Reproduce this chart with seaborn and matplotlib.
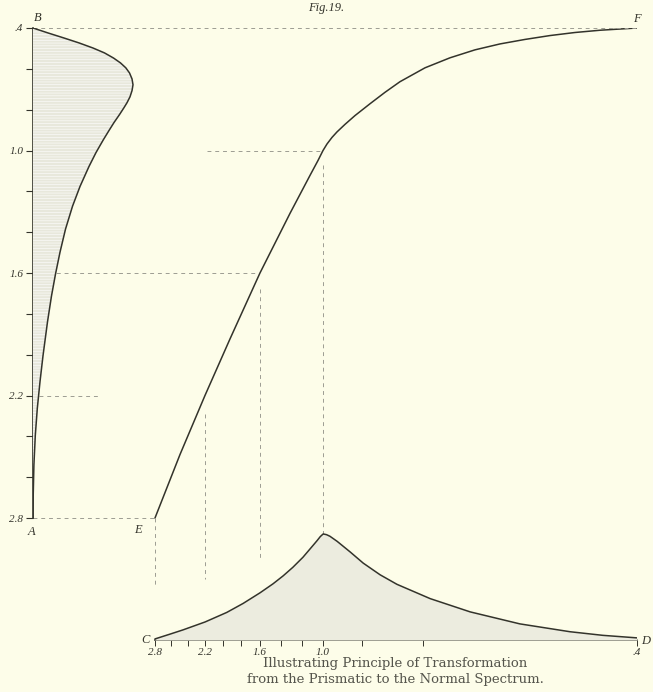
import numpy as np
import matplotlib
matplotlib.use("Agg")
import matplotlib.pyplot as plt
import seaborn as sns

# normal spectrum (left): energy against wave-length
normal_wavelength = [0.400, 0.425, 0.449, 0.473, 0.498, 0.522, 0.547, 0.571, 0.595, 0.620,
                     0.649, 0.678, 0.707, 0.737, 0.766, 0.790, 0.824, 0.863, 0.902, 0.946,
                     0.980, 1.010, 1.078, 1.127, 1.176, 1.273, 1.385, 1.498, 1.605, 1.712,
                     1.839, 2.005, 2.132, 2.263, 2.395, 2.541, 2.680, 2.800]
normal_energy = [0, 15.5, 31, 46, 60, 71.5, 80.5, 87.5, 92.8, 96.5,
                 99, 100, 99, 97, 94, 91, 86.5, 81, 76, 70.5,
                 66.5, 63, 56, 51.5, 47, 39.5, 32.5, 27, 22.5, 18.5,
                 14.5, 10, 7, 4.3, 2.3, 0.9, 0.25, 0]

# transformation curve E-F: place on the prismatic scale against wave-length
prism_pos = [0, 5.19, 10.37, 15.56, 21.78, 28.01, 32.16, 33.82, 34.86, 35.69,
             36.72, 37.76, 39.42, 41.49, 44.61, 47.72, 50.83, 56.02, 61.20, 66.39,
             71.58, 76.76, 81.95, 87.14, 92.32, 96.47, 100]
prism_wavelength = [2.800, 2.489, 2.200, 1.923, 1.600, 1.308, 1.122, 1.049, 1.000, 0.968,
                    0.936, 0.909, 0.872, 0.829, 0.771, 0.715, 0.663, 0.595, 0.546, 0.507,
                    0.478, 0.456, 0.437, 0.422, 0.411, 0.405, 0.400]

# prismatic spectrum (bottom): energy against place on the prismatic scale
bottom_pos = [0, 3.1, 5.8, 10.4, 14.9, 18.3, 21.8, 24.5, 26.6, 28.6,
              30.7, 32.2, 33.6, 34.3, 34.9, 35.6, 36.3, 37.8, 40.5, 43.2,
              46.7, 50.2, 57.1, 65.4, 75.7, 86.1, 92.9, 100]
bottom_energy = [1, 5.5, 9.5, 17, 26, 34.5, 44.5, 53, 60.5, 68.5,
                 78, 86, 93.5, 97.5, 100, 99.3, 97.8, 93, 83, 72.5,
                 61.5, 52.5, 39, 26.5, 15.2, 7.8, 4.4, 2]

label_wl = [2.8, 2.2, 1.6, 1.0, 0.4]
label_txt = ["2.8", "2.2", "1.6", "1.0", ".4"]
minor_wl = [2.6, 2.4, 2.0, 1.8, 1.4, 1.2, 0.8, 0.6]

sns.set_theme(style="white")
plt.rcParams["font.family"] = ["Liberation Serif", "DejaVu Serif"]
plt.rcParams["hatch.linewidth"] = 0.4
plt.rcParams["hatch.color"] = "#c8c8bb"

paper = "#fdfde9"
ink = "#33332b"
dash_col = "#9c9c92"

fig = plt.figure(figsize=(6.53, 6.92), dpi=100, facecolor=paper)
ax = fig.add_axes([33 / 653, 52 / 692, 604 / 653, 612 / 692])
ax.set_facecolor("none")
ax.set_xlim(-25.3, 100)
ax.set_ylim(3.397, 0.4)

# wave-length -> prismatic place
pos_of = lambda wl: np.interp(wl, prism_wavelength[::-1], prism_pos[::-1])

# transformation curve
sns.lineplot(x=prism_pos, y=prism_wavelength, ax=ax, color=ink, lw=1.1,
             sort=False, estimator=None)

# construction lines
dkw = dict(color=dash_col, lw=0.7, dashes=(4, 4))
ax.plot([-25.3, 100], [0.4, 0.4], **dkw)
ax.plot([100, 100], [0.4, 3.397], **dkw)
ax.plot([-25.3, 0], [2.8, 2.8], **dkw)
ax.plot([0, 0], [2.8, 3.13], **dkw)
ax.plot([-24, -11.4], [2.2, 2.2], **dkw)
ax.plot([pos_of(2.2)] * 2, [2.29, 3.1], **dkw)
ax.plot([-25.3, pos_of(1.6) - 0.5], [1.6, 1.6], **dkw)
ax.plot([pos_of(1.6)] * 2, [1.68, 3.0], **dkw)
ax.plot([pos_of(1.0) - 24, pos_of(1.0) - 0.5], [1.0, 1.0], **dkw)
ax.plot([pos_of(1.0)] * 2, [1.07, 3.397], **dkw)

# axes lines
for s in ["top", "right"]:
    ax.spines[s].set_visible(False)
ax.spines["left"].set_bounds(2.8, 0.4)
ax.spines["bottom"].set_bounds(0, 100)
for s in ["left", "bottom"]:
    ax.spines[s].set_color(ink)
    ax.spines[s].set_linewidth(1.2)

lab_font = dict(family="Liberation Serif", style="italic", size=8, color=ink)
ax.set_yticks(label_wl, labels=label_txt, **lab_font)
ax.set_yticks([0.6, 0.8, 1.2, 1.4, 1.8, 2.0, 2.4, 2.6], minor=True)
ax.set_xticks([pos_of(w) for w in label_wl], labels=label_txt, **lab_font)
ax.set_xticks([pos_of(w) for w in minor_wl], minor=True)
ax.tick_params(axis="y", which="both", direction="out", length=5, width=0.8,
               color=ink, pad=2, left=True)
ax.tick_params(axis="x", which="both", direction="out", length=4, width=0.7,
               color=ink, pad=1.5, bottom=True)

# normal spectrum on the left
ax_l = ax.twiny()
ax_l.set_xlim(0, 604)
ax_l.fill_betweenx(normal_wavelength, 0, normal_energy, facecolor="#e8e8dc",
                   hatch="------", edgecolor="none", lw=0)
sns.lineplot(x=normal_energy, y=normal_wavelength, ax=ax_l, color=ink, lw=1.1,
             orient="y", estimator=None)
ax_l.set_axis_off()

# prismatic spectrum at the bottom
ax_b = ax.twinx()
ax_b.set_ylim(0, 577)
ax_b.fill_between(bottom_pos, 0, bottom_energy, color="#ececdf", lw=0)
sns.lineplot(x=bottom_pos, y=bottom_energy, ax=ax_b, color=ink, lw=1.1,
             estimator=None)
ax_b.set_axis_off()

# letters
let = dict(family="Liberation Serif", style="italic", size=9, color=ink)
ax.annotate("B", (-25.3, 0.4), xytext=(1, 5), textcoords="offset points", **let)
ax.annotate("F", (100, 0.4), xytext=(0, 4), textcoords="offset points", ha="center", **let)
ax.annotate("A", (-25.3, 2.8), xytext=(-4, -12), textcoords="offset points", **let)
ax.annotate("E", (0, 2.8), xytext=(-15, -11), textcoords="offset points", **let)
ax.annotate("C", (0, 3.397), xytext=(-10, -2), textcoords="offset points", **let)
ax.annotate("D", (100, 3.397), xytext=(3, -3), textcoords="offset points", **let)

fig.text(326 / 653, 1 - 8 / 692, "Fig.19.", ha="center", va="center", **let)
cap = dict(ha="center", va="center", family="DejaVu Serif", size=9.5, color="#55554c")
fig.text(395 / 653, 1 - 664 / 692, "Illustrating Principle of Transformation", **cap)
fig.text(395 / 653, 1 - 679 / 692, "from the Prismatic to the Normal Spectrum.", **cap)

fig.savefig("out.png", dpi=100, facecolor=paper)
